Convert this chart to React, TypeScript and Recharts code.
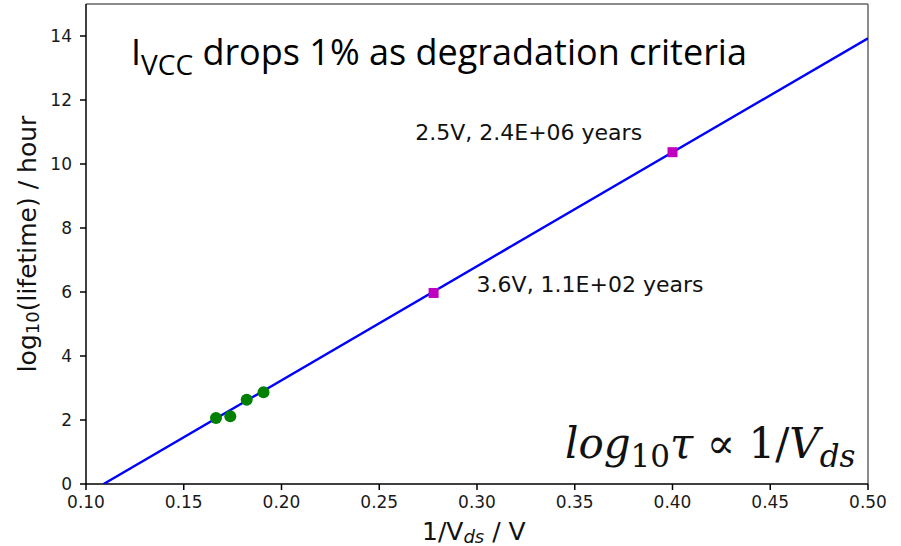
import React from 'react';
import {
  ScatterChart,
  Scatter,
  XAxis,
  YAxis,
  ReferenceLine,
  ReferenceDot,
  Label,
  Customized
} from 'recharts';

// measured points (1/Vds, log10 lifetime in hours)
const measuredX = [0.1665, 0.1738, 0.1822, 0.1908];
const measuredY = [2.06, 2.12, 2.63, 2.87];

// extrapolated operating points
const predictedX = [0.2778, 0.4];
const predictedY = [5.97, 10.37];
const predictedNotes = ['3.6V, 1.1E+02 years', '2.5V, 2.4E+06 years'];
const noteX = [0.2998, 0.2684];
const noteY = [5.99, 10.75];

// fitted line end points
const fitX = [0.109, 0.5];
const fitY = [0, 13.93];

const xTicks = [0.1, 0.15, 0.2, 0.25, 0.3, 0.35, 0.4, 0.45, 0.5];
const yTicks = [0, 2, 4, 6, 8, 10, 12, 14];

const measured = measuredX.map((x, i) => ({ x, y: measuredY[i] }));
const predicted = predictedX.map((x, i) => ({ x, y: predictedY[i] }));
const fit = fitX.map((x, i) => ({ x, y: fitY[i] }));

const tickFont = { fontFamily: 'DejaVu Sans', fontSize: 17, fill: '#1a1a1a' };

const Square = (props: any) => {
  const { cx, cy } = props;
  return <rect x={cx - 5} y={cy - 5} width={10} height={10} fill="#bf00bf" />;
};

const Dot = (props: any) => {
  const { cx, cy } = props;
  return <circle cx={cx} cy={cy} r={6} fill="#008000" />;
};

const NoShape = () => <g />;

const Overlay = () => (
  <g>
    <text x={131} y={65} fontFamily="Open Sans" fontSize={36} fill="#000">
      I
      <tspan fontSize={28} dy={10}>VCC</tspan>
      <tspan dy={-10}> drops 1% as degradation criteria</tspan>
    </text>
    <text x={565} y={458} fontFamily="DejaVu Serif" fontStyle="italic" fontSize={42} fill="#111">
      log
      <tspan fontSize={31} dy={9} fontStyle="normal">10</tspan>
      <tspan dy={-9}>τ ∝ </tspan>
      <tspan fontStyle="normal">1/</tspan>
      <tspan>V</tspan>
      <tspan fontSize={31} dy={9}>ds</tspan>
    </text>
  </g>
);

const App: React.FC = () => {
  return (
    <div style={{ position: 'absolute', left: 0, top: 0, width: 901, height: 546, background: '#fff' }}>
      <ScatterChart width={901} height={546} margin={{ top: 4, right: 33, left: 0, bottom: 0 }}>
        <XAxis
          type="number"
          dataKey="x"
          domain={[0.1, 0.5]}
          ticks={xTicks}
          tickFormatter={(v: number) => v.toFixed(2)}
          tick={tickFont}
          tickSize={6}
          tickMargin={6}
          height={62}
          stroke="#000"
          strokeWidth={1.5}
          allowDataOverflow
        >
          <Label
            content={(p: any) => (
              <text x={422} y={540} fontFamily="DejaVu Sans" fontSize={25} fill="#111">
                1/V
                <tspan fontSize={18} fontStyle="italic" dy={3}>ds</tspan>
                <tspan dy={-3}>{'  / V'}</tspan>
              </text>
            )}
          />
        </XAxis>
        <YAxis
          type="number"
          dataKey="y"
          domain={[0, 15]}
          ticks={yTicks}
          tick={tickFont}
          tickSize={6}
          tickMargin={8}
          width={86}
          stroke="#000"
          strokeWidth={1.5}
          allowDataOverflow
        >
          <Label
            content={(p: any) => (
              <text
                x={36}
                y={244}
                transform="rotate(-90 36 244)"
                textAnchor="middle"
                fontFamily="DejaVu Sans"
                fontSize={25}
                fill="#111"
              >
                log
                <tspan fontSize={18} dy={3}>10</tspan>
                <tspan dy={-3}>(lifetime) / hour</tspan>
              </text>
            )}
          />
        </YAxis>
        <ReferenceLine y={15} stroke="#666" strokeWidth={1.5} />
        <ReferenceLine x={0.5} stroke="#666" strokeWidth={1.5} />
        <Scatter
          data={fit}
          line={{ stroke: '#0000ff', strokeWidth: 2.4 }}
          shape={NoShape}
          isAnimationActive={false}
        />
        <Scatter data={measured} shape={Dot} isAnimationActive={false} />
        <Scatter data={predicted} shape={Square} isAnimationActive={false} />
        {predictedNotes.map((note, i) => (
          <ReferenceDot
            key={note}
            x={noteX[i]}
            y={noteY[i]}
            r={0}
            stroke="none"
            fill="none"
            label={(p: any) => (
              <text x={p.viewBox.x} y={p.viewBox.y} fontFamily="DejaVu Sans" fontSize={22} fill="#111">
                {note}
              </text>
            )}
          />
        ))}
        <Customized component={Overlay} />
      </ScatterChart>
    </div>
  );
};

export default App;
